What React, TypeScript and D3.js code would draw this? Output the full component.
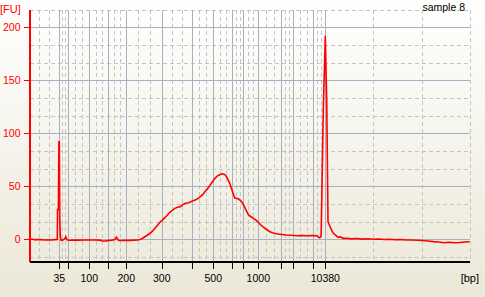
import React from 'react';
import * as d3 from 'd3';

// ---- data ----
const ladderBp = [35, 50, 100, 150, 200, 300, 400, 500, 600, 700, 1000, 2000, 3000, 7000, 10380];
const ladderTime = [45.42, 47.05, 50.87, 54.32, 57.59, 64.03, 69.59, 73.40, 76.86, 78.86, 81.58, 85.76, 87.94, 91.58, 93.76];
const labeledBp = [35, 100, 200, 300, 500, 1000, 10380];
const yTicks = [0, 50, 100, 150, 200];
const timeRange = [40, 120];
const fuRange = [-21.7, 216.67];

const traceTime = [
  40.0, 40.6, 41.0, 41.2, 42.0, 42.8, 43.4, 44.0, 44.6, 45.05, 45.1, 45.25, 45.35, 45.42, 45.5, 45.6, 45.75,
  46.0, 46.4, 46.6, 46.8, 47.2, 48.0, 49.0, 50.0, 51.0, 52.0, 52.8, 53.3, 53.9, 54.4, 55.0, 55.5, 55.8, 56.0,
  56.2, 56.8, 57.5, 58.2, 59.0, 59.7, 60.2, 60.5, 60.9, 61.4, 61.9, 62.4, 62.8, 63.3, 63.7, 64.2, 64.6, 65.1,
  65.5, 66.0, 66.4, 66.9, 67.4, 67.8, 68.3, 68.7, 69.2, 69.6, 70.1, 70.6, 71.0, 71.5, 71.9, 72.4, 72.8, 73.3,
  73.7, 74.1, 74.5, 74.9, 75.2, 75.5, 75.8, 76.1, 76.4, 76.7, 77.0, 77.3, 77.6, 78.0, 78.3, 78.6, 78.9, 79.2,
  79.5, 79.8, 80.2, 80.7, 81.1, 81.6, 82.0, 82.5, 83.0, 83.7, 84.3, 84.9, 85.8, 86.7, 87.6, 88.6, 89.5, 90.4,
  91.3, 92.2, 92.7, 92.9, 93.0, 93.12, 93.4, 93.76, 94.02, 94.25, 94.49, 94.75, 95.0, 95.22, 95.5, 95.84, 96.1,
  96.44, 97.0, 97.66, 98.5, 99.5, 100.5, 101.5, 102.5, 103.5, 104.5, 105.5, 106.5, 107.5, 108.5, 109.5, 110.4,
  111.4, 112.4, 113.4, 114.4, 115.3, 116.2, 117.2, 118.2, 119.2, 120.0,
];
const traceFU = [
  0, 0, -0.6, -0.2, -0.3, -0.6, -0.4, -0.6, -0.3, -0.2, 28, 28, 92, 92, 20, 3, -1,
  -0.8, 0.5, 2.3, -0.5, -0.9, -0.6, -0.8, -0.6, -0.7, -0.6, -0.8, -1.6, -1.6, -1.0, -0.8, -0.2, 1.9, 0.2,
  -1.2, -1.2, -0.9, -1.0, -0.8, -0.7, 0.0, 0.8, 2.2, 3.8, 5.7, 8.0, 10.4, 13.5, 16.0, 18.3, 20.4, 23.2,
  25.5, 27.5, 29.2, 30.2, 30.8, 32.5, 34.0, 34.3, 35.0, 36.2, 37.0, 38.4, 40.0, 42.3, 45.0, 48.0, 51.0, 54.5,
  57.5, 59.6, 60.7, 61.8, 61.6, 61.0, 59.0, 56.0, 52.8, 48.0, 43.4, 39.0, 38.7, 38.0, 36.8, 35.3, 32.5, 29.2,
  26.0, 23.0, 21.5, 19.8, 18.3, 16.0, 13.7, 11.5, 9.5, 7.2, 6.0, 5.3, 4.6, 4.0, 3.8, 3.4, 3.6, 3.3,
  3.5, 3.4, 1.5, 2.2, 3.4, 40, 124, 192, 128, 17, 13.5, 10.4, 7.5, 5.7, 4.5, 3.0, 1.9,
  2.3, 0.9, 1.0, 0.4, 0.8, 0.2, 0.5, 0.0, 0.3, -0.2, 0.1, -0.4, -0.2, -0.7, -0.6, -0.9,
  -1.2, -1.6, -2.2, -2.6, -3.2, -2.8, -3.2, -3.0, -2.6, -2.3,
];

const W = 485;
const H = 297;
const M = { left: 29.5, right: 15.3, top: 9.6, bottom: 34.7 };
const FONT = '"Liberation Sans", Arial, sans-serif';

export default function App() {
  const x = d3.scaleLinear().domain(timeRange).range([M.left, W - M.right]);
  const y = d3.scaleLinear().domain(fuRange).range([H - M.bottom, M.top]);
  const bpToTime = new Map(ladderBp.map((b, i) => [b, ladderTime[i]]));

  // dashed vertical lines at thirds between consecutive ladder lines
  const bounds = [timeRange[0], ...ladderTime, timeRange[1]];
  const vDashed: number[] = [];
  for (let i = 0; i < bounds.length - 1; i++) {
    const a = bounds[i], b = bounds[i + 1];
    vDashed.push(a + (b - a) / 3, a + (2 * (b - a)) / 3);
  }
  vDashed.push(timeRange[1]);

  const hDashed: number[] = [];
  for (let k = -1; k <= 13; k++) if (k % 3 !== 0) hDashed.push((k * 50) / 3);

  const pts: [number, number][] = traceTime.map((t, i) => [t, traceFU[i]]);
  const line = d3.line<[number, number]>().x((d) => x(d[0])).y((d) => y(d[1]));

  const x0 = x(timeRange[0]);
  const x1 = x(timeRange[1]);
  const yBot = y(fuRange[0]);
  const yTop = y(fuRange[1]);
  const px = (v: number) => Math.round(v) + 0.5;

  return (
    <div style={{ position: 'fixed', left: 0, top: 0 }}>
      <svg width={W} height={H} style={{ display: 'block' }}>
        <defs>
          <linearGradient id="bg" x1="0" y1="0" x2="0" y2="1">
            <stop offset="0" stopColor="#ffffff" />
            <stop offset="1" stopColor="#ebe8d7" />
          </linearGradient>
        </defs>
        <rect x={0} y={0} width={W} height={H} fill="url(#bg)" />
        <g shapeRendering="crispEdges">
          {hDashed.map((v) => (
            <line key={'hd' + v} x1={x0} x2={x1} y1={px(y(v))} y2={px(y(v))}
              stroke="#c4c4c4" strokeDasharray="4,3" />
          ))}
          {vDashed.map((t) => (
            <line key={'vd' + t} x1={px(x(t))} x2={px(x(t))} y1={yTop} y2={yBot}
              stroke="#c4c4c4" strokeDasharray="4,3" />
          ))}
          {yTicks.map((v) => (
            <line key={'hs' + v} x1={x0} x2={x1} y1={px(y(v))} y2={px(y(v))}
              stroke="#a6b0c2" strokeWidth={1} />
          ))}
          {ladderTime.map((t) => (
            <line key={'vs' + t} x1={px(x(t))} x2={px(x(t))} y1={yTop} y2={yBot}
              stroke="#a6b0c2" strokeWidth={1} />
          ))}
        </g>
        {/* trace */}
        <path d={line(pts) || ''} fill="none" stroke="#ff0000" strokeWidth={1.6} strokeLinejoin="miter" />
        {/* y axis */}
        <g shapeRendering="crispEdges">
          <line x1={x0} x2={x0} y1={yTop} y2={yBot} stroke="#ff0000" strokeWidth={2} />
          {yTicks.map((v) => (
            <line key={'yt' + v} x1={x0 - 6} x2={x0} y1={px(y(v))} y2={px(y(v))} stroke="#ff0000" strokeWidth={1.5} />
          ))}
          <line x1={x0} x2={x1} y1={yBot} y2={yBot} stroke="#000" strokeWidth={2} />
          {ladderTime.map((t) => (
            <line key={'xt' + t} x1={px(x(t))} x2={px(x(t))} y1={yBot} y2={yBot + 7}
              stroke="#000" strokeWidth={1.5} />
          ))}
        </g>
        {yTicks.map((v) => (
          <text key={'yl' + v} x={20.5} y={y(v) + 4} textAnchor="end" fill="#ff0000" fontFamily={FONT} fontSize={10.5}>{v}</text>
        ))}
        <text x={0} y={13} fill="#ff0000" fontFamily={FONT} fontSize={11}>[FU]</text>
        {labeledBp.map((b) => (
          <text key={'xl' + b} x={x(bpToTime.get(b) as number)} y={281.5} textAnchor="middle" fill="#000"
            fontFamily={FONT} fontSize={10.5}>{b}</text>
        ))}
        <text x={479} y={281.5} textAnchor="end" fill="#000" fontFamily={FONT} fontSize={11}>[bp]</text>
        <text x={465} y={10.5} textAnchor="end" fill="#000" fontFamily={FONT} fontSize={10.5}>sample 8</text>
      </svg>
    </div>
  );
}
